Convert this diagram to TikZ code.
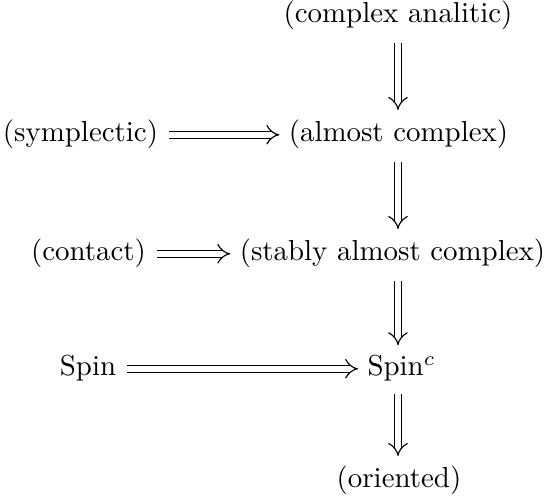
\documentclass[tikz,border=0pt]{standalone}
\usetikzlibrary{arrows.meta}
\begin{document}
\begin{tikzpicture}[x=0.346pt,y=-0.346pt,
  lbl/.style={anchor=base,inner sep=0pt,font=\fontsize{10}{12}\selectfont},
  dbl/.style={double,double distance=2pt,line width=0.4pt,-{Implies}},
  vdbl/.style={dbl,shorten <=4.1pt,shorten >=3.4pt},
  hdbl/.style={dbl,shorten <=3.6pt,shorten >=3.1pt}]
\useasboundingbox (0,0) rectangle (550,500);
\node[lbl] (ca) at (398,23) {(complex analitic)};
\node[lbl] (symp) at (80.5,142) {(symplectic)};
\node[lbl] (ac) at (398.5,142) {(almost complex)};
\node[lbl] (contact) at (88.5,261) {(contact)};
\node[lbl] (sac) at (392.5,261) {(stably almost complex)};
\node[lbl] (spin) at (88,376) {Spin};
\node[lbl,anchor=base west] (spinc) at (367,376) {Spin$^c$};
\node[lbl] (or) at (399,488) {(oriented)};
\draw[vdbl] (ca.south) -- (ca.south |- ac.north);
\draw[vdbl] (ca.south |- ac.south) -- (ca.south |- sac.north);
\draw[vdbl] (ca.south |- sac.south) -- (ca.south |- spinc.north);
\draw[vdbl] (ca.south |- spinc.south) -- (ca.south |- or.north);
\draw[hdbl] ([yshift=2.5pt]symp.base east) -- ([yshift=2.5pt]ac.base west);
\draw[hdbl] ([yshift=2.5pt]contact.base east) -- ([yshift=2.5pt]sac.base west);
\draw[hdbl] ([yshift=2.5pt]spin.base east) -- ([yshift=2.5pt]spinc.base west);
\end{tikzpicture}
\end{document}
